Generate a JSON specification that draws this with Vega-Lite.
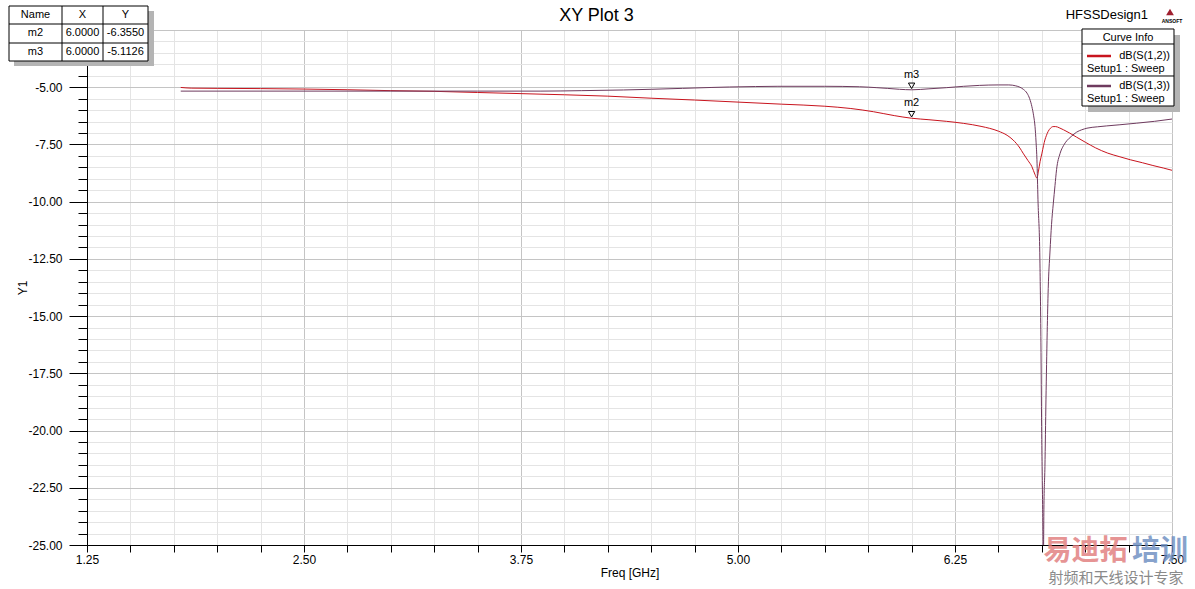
{
  "$schema": "https://vega.github.io/schema/vega-lite/v6.json",
  "width": 1085,
  "height": 515,
  "autosize": {"type": "none"},
  "padding": {"left": 87, "top": 30, "right": 23, "bottom": 44},
  "background": "white",
  "title": {"text": "XY Plot 3", "fontSize": 18, "fontWeight": "normal", "font": "Liberation Sans", "color": "black", "anchor": "middle", "dx": -33, "offset": -19},
  "config": {
    "view": {"stroke": "black", "strokeWidth": 1},
    "font": "Liberation Sans",
    "text": {"font": "Liberation Sans", "color": "black"},
    "axis": {"labelFont": "Liberation Sans", "titleFont": "Liberation Sans", "labelColor": "black", "titleColor": "black", "labelFontSize": 12, "titleFontSize": 12, "titleFontWeight": "normal", "domainColor": "black", "tickColor": "black", "labelOverlap": false, "labelBound": false, "labelFlush": false, "tickCount": 100}
  },
  "datasets": {
    "curves": [
      {"trace": "dB(S(1,2))", "freq": 1.79, "dB": -5.01},
      {"trace": "dB(S(1,2))", "freq": 1.85, "dB": -5.04},
      {"trace": "dB(S(1,2))", "freq": 2.0, "dB": -5.05},
      {"trace": "dB(S(1,2))", "freq": 2.25, "dB": -5.06},
      {"trace": "dB(S(1,2))", "freq": 2.5, "dB": -5.08},
      {"trace": "dB(S(1,2))", "freq": 2.75, "dB": -5.11},
      {"trace": "dB(S(1,2))", "freq": 3.0, "dB": -5.15},
      {"trace": "dB(S(1,2))", "freq": 3.25, "dB": -5.18},
      {"trace": "dB(S(1,2))", "freq": 3.5, "dB": -5.23},
      {"trace": "dB(S(1,2))", "freq": 3.75, "dB": -5.28},
      {"trace": "dB(S(1,2))", "freq": 4.0, "dB": -5.33},
      {"trace": "dB(S(1,2))", "freq": 4.25, "dB": -5.39},
      {"trace": "dB(S(1,2))", "freq": 4.5, "dB": -5.48},
      {"trace": "dB(S(1,2))", "freq": 4.75, "dB": -5.56},
      {"trace": "dB(S(1,2))", "freq": 5.0, "dB": -5.65},
      {"trace": "dB(S(1,2))", "freq": 5.25, "dB": -5.74},
      {"trace": "dB(S(1,2))", "freq": 5.5, "dB": -5.83},
      {"trace": "dB(S(1,2))", "freq": 5.65, "dB": -5.93},
      {"trace": "dB(S(1,2))", "freq": 5.78, "dB": -6.07},
      {"trace": "dB(S(1,2))", "freq": 5.9, "dB": -6.24},
      {"trace": "dB(S(1,2))", "freq": 6.0, "dB": -6.355},
      {"trace": "dB(S(1,2))", "freq": 6.1, "dB": -6.42},
      {"trace": "dB(S(1,2))", "freq": 6.2, "dB": -6.49},
      {"trace": "dB(S(1,2))", "freq": 6.3, "dB": -6.58},
      {"trace": "dB(S(1,2))", "freq": 6.4, "dB": -6.71},
      {"trace": "dB(S(1,2))", "freq": 6.5, "dB": -6.92},
      {"trace": "dB(S(1,2))", "freq": 6.55, "dB": -7.1},
      {"trace": "dB(S(1,2))", "freq": 6.584, "dB": -7.3},
      {"trace": "dB(S(1,2))", "freq": 6.624, "dB": -7.66},
      {"trace": "dB(S(1,2))", "freq": 6.642, "dB": -7.88},
      {"trace": "dB(S(1,2))", "freq": 6.67, "dB": -8.2},
      {"trace": "dB(S(1,2))", "freq": 6.693, "dB": -8.47},
      {"trace": "dB(S(1,2))", "freq": 6.71, "dB": -8.8},
      {"trace": "dB(S(1,2))", "freq": 6.722, "dB": -8.97},
      {"trace": "dB(S(1,2))", "freq": 6.73, "dB": -8.7},
      {"trace": "dB(S(1,2))", "freq": 6.74, "dB": -8.25},
      {"trace": "dB(S(1,2))", "freq": 6.751, "dB": -7.88},
      {"trace": "dB(S(1,2))", "freq": 6.76, "dB": -7.55},
      {"trace": "dB(S(1,2))", "freq": 6.768, "dB": -7.3},
      {"trace": "dB(S(1,2))", "freq": 6.777, "dB": -7.1},
      {"trace": "dB(S(1,2))", "freq": 6.786, "dB": -6.94},
      {"trace": "dB(S(1,2))", "freq": 6.8, "dB": -6.79},
      {"trace": "dB(S(1,2))", "freq": 6.815, "dB": -6.72},
      {"trace": "dB(S(1,2))", "freq": 6.83, "dB": -6.72},
      {"trace": "dB(S(1,2))", "freq": 6.85, "dB": -6.77},
      {"trace": "dB(S(1,2))", "freq": 6.875, "dB": -6.86},
      {"trace": "dB(S(1,2))", "freq": 6.91, "dB": -7.0},
      {"trace": "dB(S(1,2))", "freq": 6.95, "dB": -7.18},
      {"trace": "dB(S(1,2))", "freq": 7.0, "dB": -7.4},
      {"trace": "dB(S(1,2))", "freq": 7.06, "dB": -7.65},
      {"trace": "dB(S(1,2))", "freq": 7.13, "dB": -7.88},
      {"trace": "dB(S(1,2))", "freq": 7.2, "dB": -8.04},
      {"trace": "dB(S(1,2))", "freq": 7.26, "dB": -8.17},
      {"trace": "dB(S(1,2))", "freq": 7.33, "dB": -8.3},
      {"trace": "dB(S(1,2))", "freq": 7.39, "dB": -8.42},
      {"trace": "dB(S(1,2))", "freq": 7.45, "dB": -8.53},
      {"trace": "dB(S(1,2))", "freq": 7.5, "dB": -8.63},
      {"trace": "dB(S(1,3))", "freq": 1.79, "dB": -5.17},
      {"trace": "dB(S(1,3))", "freq": 2.5, "dB": -5.17},
      {"trace": "dB(S(1,3))", "freq": 3.0, "dB": -5.17},
      {"trace": "dB(S(1,3))", "freq": 3.5, "dB": -5.17},
      {"trace": "dB(S(1,3))", "freq": 3.86, "dB": -5.17},
      {"trace": "dB(S(1,3))", "freq": 4.1, "dB": -5.15},
      {"trace": "dB(S(1,3))", "freq": 4.34, "dB": -5.12},
      {"trace": "dB(S(1,3))", "freq": 4.5, "dB": -5.09},
      {"trace": "dB(S(1,3))", "freq": 4.68, "dB": -5.05},
      {"trace": "dB(S(1,3))", "freq": 4.85, "dB": -5.01},
      {"trace": "dB(S(1,3))", "freq": 4.95, "dB": -4.99},
      {"trace": "dB(S(1,3))", "freq": 5.1, "dB": -4.97},
      {"trace": "dB(S(1,3))", "freq": 5.23, "dB": -4.96},
      {"trace": "dB(S(1,3))", "freq": 5.5, "dB": -4.96},
      {"trace": "dB(S(1,3))", "freq": 5.7, "dB": -4.98},
      {"trace": "dB(S(1,3))", "freq": 5.8, "dB": -5.02},
      {"trace": "dB(S(1,3))", "freq": 5.86, "dB": -5.05},
      {"trace": "dB(S(1,3))", "freq": 5.93, "dB": -5.09},
      {"trace": "dB(S(1,3))", "freq": 6.0, "dB": -5.1126},
      {"trace": "dB(S(1,3))", "freq": 6.1, "dB": -5.07},
      {"trace": "dB(S(1,3))", "freq": 6.2, "dB": -5.02},
      {"trace": "dB(S(1,3))", "freq": 6.3, "dB": -4.96},
      {"trace": "dB(S(1,3))", "freq": 6.39, "dB": -4.92},
      {"trace": "dB(S(1,3))", "freq": 6.5, "dB": -4.9},
      {"trace": "dB(S(1,3))", "freq": 6.56, "dB": -4.9},
      {"trace": "dB(S(1,3))", "freq": 6.6, "dB": -4.94},
      {"trace": "dB(S(1,3))", "freq": 6.624, "dB": -5.0},
      {"trace": "dB(S(1,3))", "freq": 6.645, "dB": -5.1},
      {"trace": "dB(S(1,3))", "freq": 6.665, "dB": -5.26},
      {"trace": "dB(S(1,3))", "freq": 6.68, "dB": -5.5},
      {"trace": "dB(S(1,3))", "freq": 6.693, "dB": -5.85},
      {"trace": "dB(S(1,3))", "freq": 6.703, "dB": -6.25},
      {"trace": "dB(S(1,3))", "freq": 6.711, "dB": -6.72},
      {"trace": "dB(S(1,3))", "freq": 6.717, "dB": -7.4},
      {"trace": "dB(S(1,3))", "freq": 6.722, "dB": -8.17},
      {"trace": "dB(S(1,3))", "freq": 6.728, "dB": -9.92},
      {"trace": "dB(S(1,3))", "freq": 6.739, "dB": -12.54},
      {"trace": "dB(S(1,3))", "freq": 6.745, "dB": -16.17},
      {"trace": "dB(S(1,3))", "freq": 6.749, "dB": -19.83},
      {"trace": "dB(S(1,3))", "freq": 6.755, "dB": -23.46},
      {"trace": "dB(S(1,3))", "freq": 6.759, "dB": -26.0},
      {"trace": "dB(S(1,3))", "freq": 6.762, "dB": -23.46},
      {"trace": "dB(S(1,3))", "freq": 6.768, "dB": -21.58},
      {"trace": "dB(S(1,3))", "freq": 6.774, "dB": -18.66},
      {"trace": "dB(S(1,3))", "freq": 6.781, "dB": -15.73},
      {"trace": "dB(S(1,3))", "freq": 6.787, "dB": -13.8},
      {"trace": "dB(S(1,3))", "freq": 6.797, "dB": -12.2},
      {"trace": "dB(S(1,3))", "freq": 6.806, "dB": -11.0},
      {"trace": "dB(S(1,3))", "freq": 6.816, "dB": -10.1},
      {"trace": "dB(S(1,3))", "freq": 6.826, "dB": -9.3},
      {"trace": "dB(S(1,3))", "freq": 6.835, "dB": -8.6},
      {"trace": "dB(S(1,3))", "freq": 6.855, "dB": -7.9},
      {"trace": "dB(S(1,3))", "freq": 6.875, "dB": -7.55},
      {"trace": "dB(S(1,3))", "freq": 6.895, "dB": -7.33},
      {"trace": "dB(S(1,3))", "freq": 6.92, "dB": -7.15},
      {"trace": "dB(S(1,3))", "freq": 6.951, "dB": -6.96},
      {"trace": "dB(S(1,3))", "freq": 6.98, "dB": -6.86},
      {"trace": "dB(S(1,3))", "freq": 7.01, "dB": -6.79},
      {"trace": "dB(S(1,3))", "freq": 7.07, "dB": -6.73},
      {"trace": "dB(S(1,3))", "freq": 7.124, "dB": -6.69},
      {"trace": "dB(S(1,3))", "freq": 7.2, "dB": -6.64},
      {"trace": "dB(S(1,3))", "freq": 7.297, "dB": -6.57},
      {"trace": "dB(S(1,3))", "freq": 7.4, "dB": -6.49},
      {"trace": "dB(S(1,3))", "freq": 7.5, "dB": -6.39}
    ],
    "markers": [
      {"name": "m2", "freq": 6.0, "dB": -6.355, "X": "6.0000", "Y": "-6.3550"},
      {"name": "m3", "freq": 6.0, "dB": -5.1126, "X": "6.0000", "Y": "-5.1126"}
    ],
    "blank": [{}]
  },
  "layer": [
    {
      "data": {"name": "curves"},
      "mark": {"type": "line", "strokeWidth": 1, "clip": true, "interpolate": "monotone"},
      "encoding": {
        "x": {"field": "freq", "type": "quantitative",
          "scale": {"domain": [1.25, 7.5], "nice": false, "zero": false},
          "axis": {"title": "Freq [GHz]", "titlePadding": 2,
            "values": [1.25,1.5,1.75,2,2.25,2.5,2.75,3,3.25,3.5,3.75,4,4.25,4.5,4.75,5,5.25,5.5,5.75,6,6.25,6.5,6.75,7,7.25,7.5],
            "labelExpr": "datum.value % 1.25 === 0 ? format(datum.value, '.2f') : ''",
            "tickSize": 7, "labelPadding": 2, "tickCount": 100,
            "grid": true,
            "gridColor": {"condition": {"test": "datum.value % 1.25 === 0", "value": "#c4c4c4"}, "value": "#e4e4e4"}}},
        "y": {"field": "dB", "type": "quantitative",
          "scale": {"domain": [-25, -2.5], "nice": false, "zero": false},
          "axis": {"title": "Y1", "titlePadding": -2, "tickCount": 100,
            "values": [-25,-24.5,-24,-23.5,-23,-22.5,-22,-21.5,-21,-20.5,-20,-19.5,-19,-18.5,-18,-17.5,-17,-16.5,-16,-15.5,-15,-14.5,-14,-13.5,-13,-12.5,-12,-11.5,-11,-10.5,-10,-9.5,-9,-8.5,-8,-7.5,-7,-6.5,-6,-5.5,-5,-4.5,-4,-3.5,-3,-2.5],
            "labelExpr": "(datum.value % 2.5 === 0 && datum.value < -3) ? replace(format(datum.value, '.2f'), '\u2212', '-') : ''",
            "tickSize": {"condition": {"test": "datum.value % 2.5 === 0", "value": 18}, "value": 9},
            "labelPadding": 7,
            "grid": true,
            "gridColor": {"condition": {"test": "datum.value % 2.5 === 0", "value": "#c4c4c4"}, "value": "#e4e4e4"}}},
        "color": {"field": "trace", "type": "nominal",
          "scale": {"domain": ["dB(S(1,2))", "dB(S(1,3))"], "range": ["#c8141e", "#6e3a5e"]},
          "legend": null}
      }
    },
    {
      "data": {"name": "markers"},
      "mark": {"type": "point", "shape": "triangle-down", "filled": false, "stroke": "black", "strokeWidth": 1, "size": 40, "yOffset": -4, "opacity": 1},
      "encoding": {"x": {"field": "freq", "type": "quantitative"}, "y": {"field": "dB", "type": "quantitative"}}
    },
    {
      "data": {"name": "markers"},
      "mark": {"type": "text", "fontSize": 11, "dy": -15, "baseline": "middle", "align": "center"},
      "encoding": {"x": {"field": "freq", "type": "quantitative"}, "y": {"field": "dB", "type": "quantitative"}, "text": {"field": "name"}}
    },
    {
      "data": {"name": "blank"},
      "mark": {"type": "rect", "fill": "#b4b4b4"},
      "encoding": {"x": {"datum": 0.8295}, "x2": {"datum": 1.636}, "y": {"datum": -1.6699}, "y2": {"datum": -4.0728}}
    },
    {
      "data": {"name": "blank"},
      "mark": {"type": "rect", "fill": "white", "stroke": "black", "strokeWidth": 1},
      "encoding": {"x": {"datum": 0.8007}, "x2": {"datum": 1.6014}, "y": {"datum": -1.4515}, "y2": {"datum": -3.8544}}
    },
    {
      "data": {"name": "blank"},
      "mark": {"type": "rule", "stroke": "black", "strokeWidth": 1},
      "encoding": {"x": {"datum": 1.106}, "y": {"datum": -1.4515}, "y2": {"datum": -3.8544}}
    },
    {
      "data": {"name": "blank"},
      "mark": {"type": "rule", "stroke": "black", "strokeWidth": 1},
      "encoding": {"x": {"datum": 1.3422}, "y": {"datum": -1.4515}, "y2": {"datum": -3.8544}}
    },
    {
      "data": {"name": "blank"},
      "mark": {"type": "rule", "stroke": "black", "strokeWidth": 1},
      "encoding": {"x": {"datum": 0.8007}, "x2": {"datum": 1.6014}, "y": {"datum": -2.2379}}
    },
    {
      "data": {"name": "blank"},
      "mark": {"type": "rule", "stroke": "black", "strokeWidth": 1},
      "encoding": {"x": {"datum": 0.8007}, "x2": {"datum": 1.6014}, "y": {"datum": -3.068}}
    },
    {
      "data": {"name": "blank"},
      "mark": {"type": "text", "fontSize": 11, "align": "center", "baseline": "middle"},
      "encoding": {"x": {"datum": 0.9533}, "y": {"datum": -1.8447}, "text": {"value": "Name"}}
    },
    {
      "data": {"name": "blank"},
      "mark": {"type": "text", "fontSize": 11, "align": "center", "baseline": "middle"},
      "encoding": {"x": {"datum": 1.2241}, "y": {"datum": -1.8447}, "text": {"value": "X"}}
    },
    {
      "data": {"name": "blank"},
      "mark": {"type": "text", "fontSize": 11, "align": "center", "baseline": "middle"},
      "encoding": {"x": {"datum": 1.4718}, "y": {"datum": -1.8447}, "text": {"value": "Y"}}
    },
    {
      "data": {"name": "markers"},
      "transform": [{"filter": "datum.name === 'm2'"}],
      "mark": {"type": "text", "fontSize": 11, "align": "center", "baseline": "middle"},
      "encoding": {"x": {"datum": 0.9533}, "y": {"datum": -2.6529}, "text": {"field": "name"}}
    },
    {
      "data": {"name": "markers"},
      "transform": [{"filter": "datum.name === 'm2'"}],
      "mark": {"type": "text", "fontSize": 11, "align": "center", "baseline": "middle"},
      "encoding": {"x": {"datum": 1.2241}, "y": {"datum": -2.6529}, "text": {"field": "X"}}
    },
    {
      "data": {"name": "markers"},
      "transform": [{"filter": "datum.name === 'm2'"}],
      "mark": {"type": "text", "fontSize": 11, "align": "center", "baseline": "middle"},
      "encoding": {"x": {"datum": 1.4718}, "y": {"datum": -2.6529}, "text": {"field": "Y"}}
    },
    {
      "data": {"name": "markers"},
      "transform": [{"filter": "datum.name === 'm3'"}],
      "mark": {"type": "text", "fontSize": 11, "align": "center", "baseline": "middle"},
      "encoding": {"x": {"datum": 0.9533}, "y": {"datum": -3.4612}, "text": {"field": "name"}}
    },
    {
      "data": {"name": "markers"},
      "transform": [{"filter": "datum.name === 'm3'"}],
      "mark": {"type": "text", "fontSize": 11, "align": "center", "baseline": "middle"},
      "encoding": {"x": {"datum": 1.2241}, "y": {"datum": -3.4612}, "text": {"field": "X"}}
    },
    {
      "data": {"name": "markers"},
      "transform": [{"filter": "datum.name === 'm3'"}],
      "mark": {"type": "text", "fontSize": 11, "align": "center", "baseline": "middle"},
      "encoding": {"x": {"datum": 1.4718}, "y": {"datum": -3.4612}, "text": {"field": "Y"}}
    },
    {
      "data": {"name": "blank"},
      "mark": {"type": "rect", "fill": "#b4b4b4"},
      "encoding": {"x": {"datum": 7.0161}, "x2": {"datum": 7.5461}, "y": {"datum": -2.7184}, "y2": {"datum": -6.0825}}
    },
    {
      "data": {"name": "blank"},
      "mark": {"type": "rect", "fill": "white", "stroke": "black", "strokeWidth": 1},
      "encoding": {"x": {"datum": 6.9816}, "x2": {"datum": 7.5115}, "y": {"datum": -2.4563}, "y2": {"datum": -5.8204}}
    },
    {
      "data": {"name": "blank"},
      "mark": {"type": "rule", "stroke": "black", "strokeWidth": 1},
      "encoding": {"x": {"datum": 6.9816}, "x2": {"datum": 7.5115}, "y": {"datum": -3.1116}}
    },
    {
      "data": {"name": "blank"},
      "mark": {"type": "rule", "stroke": "black", "strokeWidth": 1},
      "encoding": {"x": {"datum": 6.9816}, "x2": {"datum": 7.5115}, "y": {"datum": -4.5097}}
    },
    {
      "data": {"name": "blank"},
      "mark": {"type": "text", "fontSize": 11, "align": "center", "baseline": "middle"},
      "encoding": {"x": {"datum": 7.2466}, "y": {"datum": -2.8495}, "text": {"value": "Curve Info"}}
    },
    {
      "data": {"name": "blank"},
      "mark": {"type": "rule", "strokeWidth": 2.5},
      "encoding": {"x": {"datum": 7.0104}, "x2": {"datum": 7.1486}, "y": {"datum": -3.6359}, "color": {"datum": "dB(S(1,2))"}}
    },
    {
      "data": {"name": "blank"},
      "mark": {"type": "rule", "strokeWidth": 2.5},
      "encoding": {"x": {"datum": 7.0104}, "x2": {"datum": 7.1486}, "y": {"datum": -4.9466}, "color": {"datum": "dB(S(1,3))"}}
    },
    {
      "data": {"name": "blank"},
      "mark": {"type": "text", "fontSize": 11, "align": "right", "baseline": "middle"},
      "encoding": {"x": {"datum": 7.4885}, "y": {"datum": -3.6359}, "text": {"value": "dB(S(1,2))"}}
    },
    {
      "data": {"name": "blank"},
      "mark": {"type": "text", "fontSize": 11, "align": "right", "baseline": "middle"},
      "encoding": {"x": {"datum": 7.4885}, "y": {"datum": -4.9466}, "text": {"value": "dB(S(1,3))"}}
    },
    {
      "data": {"name": "blank"},
      "mark": {"type": "text", "fontSize": 11, "align": "left", "baseline": "middle"},
      "encoding": {"x": {"datum": 7.0104}, "y": {"datum": -4.2039}, "text": {"value": "Setup1 : Sweep"}}
    },
    {
      "data": {"name": "blank"},
      "mark": {"type": "text", "fontSize": 11, "align": "left", "baseline": "middle"},
      "encoding": {"x": {"datum": 7.0104}, "y": {"datum": -5.5146}, "text": {"value": "Setup1 : Sweep"}}
    },
    {
      "data": {"name": "blank"},
      "mark": {"type": "text", "fontSize": 13, "align": "right", "baseline": "middle"},
      "encoding": {"x": {"datum": 7.3618}, "y": {"datum": -1.8447}, "text": {"value": "HFSSDesign1"}}
    },
    {
      "data": {"name": "blank"},
      "mark": {"type": "point", "shape": "triangle-up", "filled": true, "color": "#a02030", "size": 60, "opacity": 1},
      "encoding": {"x": {"datum": 7.4885}, "y": {"datum": -1.7136}}
    },
    {
      "data": {"name": "blank"},
      "mark": {"type": "text", "fontSize": 5, "fontWeight": "bold", "align": "center", "baseline": "middle"},
      "encoding": {"x": {"datum": 7.5}, "y": {"datum": -2.1068}, "text": {"value": "ANSOFT"}}
    },
    {
      "data": {"name": "blank"},
      "mark": {"type": "text", "font": "Noto Sans CJK SC", "fontSize": 28, "fontWeight": "bold", "align": "center", "baseline": "middle", "color": "#e07a7a", "opacity": 0.8},
      "encoding": {"x": {"datum": 7.0018}, "y": {"datum": -25.3058}, "text": {"value": "易迪拓"}}
    },
    {
      "data": {"name": "blank"},
      "mark": {"type": "text", "font": "Noto Sans CJK SC", "fontSize": 28, "fontWeight": "bold", "align": "center", "baseline": "middle", "color": "#6a8cc0", "opacity": 0.8},
      "encoding": {"x": {"datum": 7.4309}, "y": {"datum": -25.3058}, "text": {"value": "培训"}}
    },
    {
      "data": {"name": "blank"},
      "mark": {"type": "text", "font": "Noto Sans CJK SC", "fontSize": 15, "align": "center", "baseline": "middle", "color": "#8a8a8a"},
      "encoding": {"x": {"datum": 7.1774}, "y": {"datum": -26.4417}, "text": {"value": "射频和天线设计专家"}}
    }
  ]
}
